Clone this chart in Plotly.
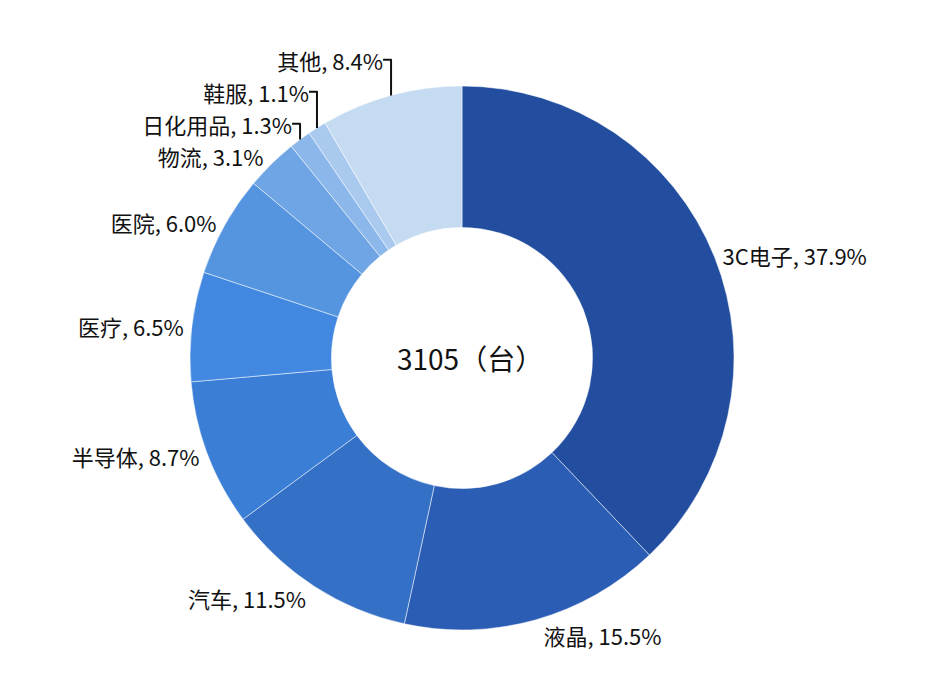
import plotly.graph_objects as go

labels = ["3C电子", "液晶", "汽车", "半导体", "医疗", "医院", "物流", "日化用品", "鞋服", "其他"]
values = [37.9, 15.5, 11.5, 8.7, 6.5, 6.0, 3.1, 1.3, 1.1, 8.4]
colors = ["#234EA0", "#2C5DB5", "#3470C6", "#3A7ED6", "#4388E0",
          "#5595E0", "#6FA5E4", "#8CB7EA", "#A9C9EE", "#C5DBF1"]
total_text = "3105（台）"

L, R, T, B = 182, 210, 78, 63
fig = go.Figure(go.Pie(
    labels=labels, values=values, hole=0.48, sort=False, direction="clockwise",
    rotation=0, marker=dict(colors=colors, line=dict(color="white", width=0.5)),
    texttemplate="%{label}, %{value:.1f}%", textposition="outside",
    textfont=dict(size=22, color="#111"), showlegend=False, automargin=False,
))
fig.add_annotation(text=total_text,
                   x=(462 - L) / (936 - L - R), y=1 - (350 - T) / (685 - T - B),
                   xref="paper", yref="paper",
                   showarrow=False, font=dict(size=28, color="#111"))
fig.update_layout(
    width=936, height=685, paper_bgcolor="white",
    margin=dict(l=L, r=R, t=T, b=B),
    font=dict(family="Noto Sans CJK SC"),
)
fig.write_html("out.html")
